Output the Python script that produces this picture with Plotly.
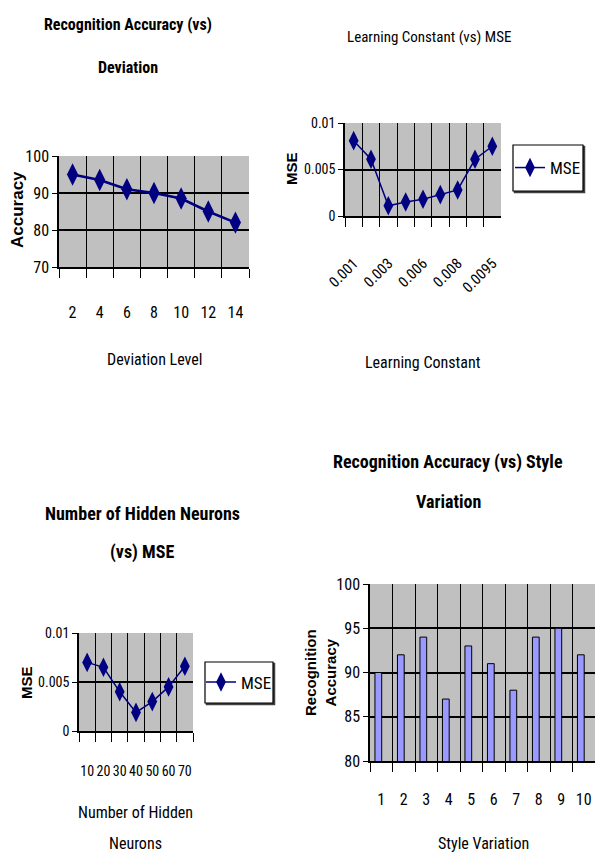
import plotly.graph_objects as go

# ---------------- data ----------------
dev_levels = ["2", "4", "6", "8", "10", "12", "14"]
dev_accuracy = [95, 93.5, 91, 90, 88.5, 85, 82]

lc_values = ["0.001", "0.002", "0.003", "0.005", "0.006", "0.007", "0.008", "0.009", "0.0095"]
lc_labels = ["0.001", "", "0.003", "", "0.006", "", "0.008", "", "0.0095"]
lc_mse = [0.0081, 0.0061, 0.0011, 0.0015, 0.0018, 0.0023, 0.0028, 0.0061, 0.0075]

hidden_neurons = ["10", "20", "30", "40", "50", "60", "70"]
hidden_mse = [0.007, 0.0065, 0.004, 0.0019, 0.003, 0.0045, 0.0066]

style_variation = ["1", "2", "3", "4", "5", "6", "7", "8", "9", "10"]
style_accuracy = [90, 92, 94, 87, 93, 91, 88, 94, 95, 92]

# ---------------- styling ----------------
W, H = 595, 856
NARROW = "Liberation Sans Narrow, Arial Narrow, Roboto Condensed, DejaVu Sans Condensed, sans-serif"
WIDE = "Liberation Sans, Arial, sans-serif"
NAVY = "#000080"
PLOT_BG = "#C0C0C0"


def px_x(p):
    return p / W


def px_y(p):
    return 1 - p / H


fig = go.Figure()

# chart 1 : Recognition accuracy vs deviation
fig.add_trace(go.Scatter(x=dev_levels, y=dev_accuracy, mode="lines+markers",
                         line=dict(color=NAVY, width=2.5),
                         marker=dict(symbol="diamond-tall", size=16, color=NAVY),
                         showlegend=False, xaxis="x", yaxis="y"))
# chart 2 : learning constant vs MSE
fig.add_trace(go.Scatter(x=lc_values, y=lc_mse, mode="lines+markers", name="MSE",
                         line=dict(color=NAVY, width=1.5),
                         marker=dict(symbol="diamond-tall", size=14, color=NAVY),
                         showlegend=True, legend="legend", xaxis="x2", yaxis="y2"))
# chart 3 : hidden neurons vs MSE
fig.add_trace(go.Scatter(x=hidden_neurons, y=hidden_mse, mode="lines+markers", name="MSE",
                         line=dict(color=NAVY, width=1.5),
                         marker=dict(symbol="diamond-tall", size=14, color=NAVY),
                         showlegend=True, legend="legend2", xaxis="x3", yaxis="y3"))
# chart 4 : accuracy vs style variation
fig.add_trace(go.Bar(x=style_variation, y=style_accuracy, width=0.3, offset=-0.28,
                     marker=dict(color="#9999FF", line=dict(color="#000000", width=1)),
                     showlegend=False, xaxis="x4", yaxis="y4"))


def cat_axis(domain, cats, standoff, angle=0, ticktext=None, anchor="y", size=15):
    return dict(domain=domain, type="category", anchor=anchor, range=[-0.5, len(cats) - 0.5],
                automargin=False,
                tickmode="array", tickvals=cats, ticktext=ticktext if ticktext else cats,
                tickson="boundaries", ticks="outside", ticklen=9, tickcolor="black", tickwidth=1.2,
                showgrid=True, gridcolor="black", gridwidth=1.2,
                showline=True, linecolor="black", linewidth=1.5,
                tickfont=dict(family=NARROW, size=size, color="black"),
                ticklabelstandoff=standoff, tickangle=angle, fixedrange=True)


def val_axis(domain, rng, dtick, anchor, size=16):
    return dict(domain=domain, anchor=anchor, range=rng, dtick=dtick, tick0=rng[0],
                automargin=False,
                ticks="outside", ticklen=5, tickcolor="black",
                showgrid=True, gridcolor="black", gridwidth=1.8,
                showline=True, linecolor="black", linewidth=1.5, zeroline=False,
                tickfont=dict(family=NARROW, size=size, color="black"), fixedrange=True)


legend_style = dict(xanchor="center", yanchor="middle", bgcolor="rgba(0,0,0,0)",
                    borderwidth=0, itemwidth=30,
                    font=dict(family=NARROW, size=17, color="black"))

fig.update_layout(
    width=W, height=H, autosize=False,
    margin=dict(l=0, r=0, t=0, b=0, autoexpand=False),
    paper_bgcolor="white", plot_bgcolor=PLOT_BG,
    xaxis=cat_axis([px_x(59), px_x(249)], dev_levels, 30, anchor="y", size=16),
    yaxis=val_axis([px_y(267), px_y(156)], [70, 100], 10, "x"),
    xaxis2=cat_axis([px_x(345), px_x(501)], lc_values, 31, angle=-45,
                    ticktext=lc_labels, anchor="y2"),
    yaxis2=val_axis([px_y(216), px_y(123)], [0, 0.01], 0.005, "x2", size=14),
    xaxis3=cat_axis([px_x(79), px_x(193)], hidden_neurons, 26, anchor="y3", size=14),
    yaxis3=val_axis([px_y(731), px_y(633)], [0, 0.01], 0.005, "x3", size=14),
    xaxis4=cat_axis([px_x(370), px_x(595)], style_variation, 23, anchor="y4", size=16),
    yaxis4=val_axis([px_y(761), px_y(584)], [80, 100], 5, "x4"),
    legend=dict(x=px_x(548), y=px_y(168), **legend_style),
    legend2=dict(x=px_x(239), y=px_y(682.5), **legend_style),
)

# legend frames (Excel style box with a slight shadow)
for (x0, y0, x1, y1) in [(513, 145, 583, 191), (205, 662, 273, 703)]:
    fig.add_shape(type="rect", xref="paper", yref="paper",
                  x0=px_x(x0 + 1.5), x1=px_x(x1 + 1.5), y0=px_y(y1 + 1.5), y1=px_y(y0 + 1.5),
                  line=dict(color="#404040", width=1.5), fillcolor="#404040", layer="below")
    fig.add_shape(type="rect", xref="paper", yref="paper",
                  x0=px_x(x0), x1=px_x(x1), y0=px_y(y1), y1=px_y(y0),
                  line=dict(color="black", width=1.2), fillcolor="white", layer="below")

annotations = []


def ann(text, x, y, size, bold=False, family=NARROW, angle=0):
    annotations.append(dict(text=text, x=px_x(x), y=px_y(y), xref="paper", yref="paper",
                            xanchor="center", yanchor="middle", showarrow=False,
                            textangle=angle,
                            font=dict(family=family, size=size, color="black",
                                      weight="bold" if bold else "normal")))


# chart titles
ann("Recognition Accuracy (vs)", 128, 25, 16, bold=True)
ann("Deviation", 128, 67, 16, bold=True)
ann("Learning Constant (vs) MSE", 429, 37, 15)
ann("Number of Hidden Neurons", 142, 513, 18, bold=True)
ann("(vs) MSE", 142, 552, 18, bold=True)
ann("Recognition Accuracy (vs) Style", 448, 462, 18, bold=True)
ann("Variation", 448, 501, 18, bold=True)

# axis titles
ann("Deviation Level", 155, 360, 16)
ann("Learning Constant", 423, 362, 16)
ann("Number of Hidden", 135, 812, 16)
ann("Neurons", 135, 843, 16)
ann("Style Variation", 483, 843, 16)

ann("Accuracy", 18, 210, 17, bold=True, family=WIDE, angle=-90)
ann("MSE", 292, 169, 15, bold=True, family=WIDE, angle=-90)
ann("MSE", 26, 683, 15, bold=True, family=WIDE, angle=-90)
ann("Recognition<br>Accuracy", 320, 673, 15, bold=True, family=WIDE, angle=-90)

fig.update_layout(annotations=annotations)

fig.write_html("out.html", config={"displayModeBar": False},
               post_script="document.body.style.margin='0';document.body.style.overflow='hidden';")
